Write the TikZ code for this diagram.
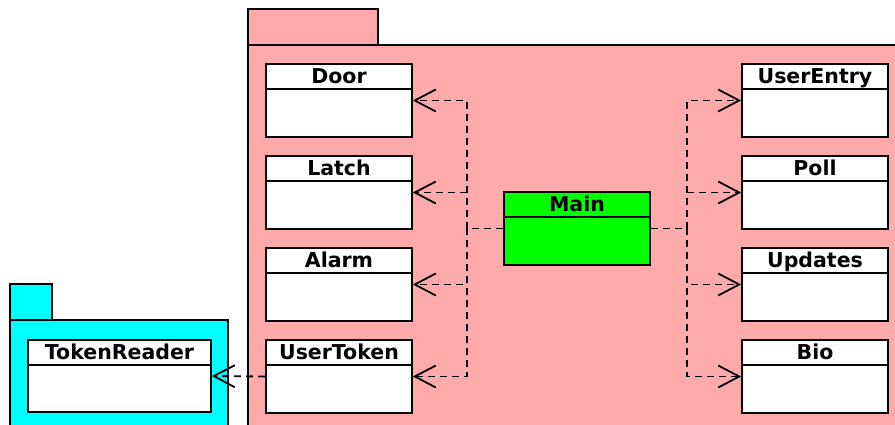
\documentclass[tikz,border=0pt]{standalone}
\usepackage{fontspec}
\setmainfont{DejaVu Sans}
\usetikzlibrary{arrows.meta}
\definecolor{pkgpink}{HTML}{FFAAAA}
\definecolor{pkgcyan}{HTML}{00FFFF}
\definecolor{mainfill}{HTML}{00FF00}
\begin{document}
\begin{tikzpicture}[x=1pt,y=-1pt,
  outline/.style={draw=black,line width=1.7pt},
  classbox/.style={outline,fill=white,minimum width=146pt,minimum height=73pt,
    inner sep=0pt,
    path picture={\draw[line width=1.7pt]
      ([yshift=-25pt]path picture bounding box.north west) --
      ([yshift=-25pt]path picture bounding box.north east);},
    label={[anchor=base,yshift=-20.5pt,inner sep=0pt,
      font=\fontsize{20.5}{24}\selectfont\bfseries]north:#1}},
  dep/.style={line width=1.8pt,dash pattern=on 7pt off 5pt,
    -{Straight Barb[length=21pt,width=22pt,line width=1.8pt]}}]
\useasboundingbox (0,0) rectangle (895,425);
\begin{scope}
\clip (0,0) rectangle (895,425);
% packages
\draw[outline,fill=pkgpink] (248,45) rectangle (378,9);
\draw[outline,fill=pkgpink] (248,440) rectangle (910,45);
\draw[outline,fill=pkgcyan] (10,320) rectangle (52,284);
\draw[outline,fill=pkgcyan] (10,440) rectangle (228,320);
\end{scope}
% classes
\node[classbox=Door] (door) at (339,100.5) {};
\node[classbox=Latch] (latch) at (339,192.5) {};
\node[classbox=Alarm] (alarm) at (339,284.5) {};
\node[classbox=UserToken] (usertoken) at (339,376.5) {};
\node[classbox=UserEntry] (userentry) at (815,100.5) {};
\node[classbox=Poll] (poll) at (815,192.5) {};
\node[classbox=Updates] (updates) at (815,284.5) {};
\node[classbox=Bio] (bio) at (815,376.5) {};
\node[classbox=Main,fill=mainfill] (main) at (577,228.5) {};
\node[classbox=TokenReader,minimum width=183pt,minimum height=72pt] (tokenreader) at (119.5,376) {};
% dependency trunks
\coordinate (lj) at (467,228.5);
\coordinate (rj) at (687,228.5);
\foreach \t in {door,latch,alarm,usertoken}
  \draw[dep] (main.west) -- (lj) |- (\t.east);
\foreach \t in {userentry,poll,updates,bio}
  \draw[dep] (main.east) -- (rj) |- (\t.west);
\draw[dep] (usertoken.west) -- (tokenreader.east);
\end{tikzpicture}
\end{document}
